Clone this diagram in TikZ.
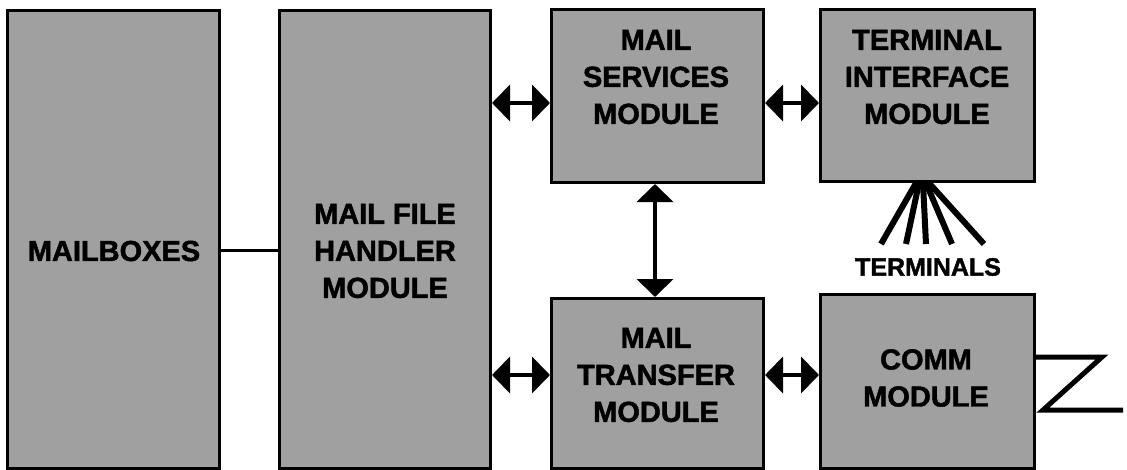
\documentclass[tikz,border=0pt]{standalone}
\usepackage{fontspec}
\setmainfont{Liberation Sans}[BoldFeatures={FakeBold=1.6}]
\usetikzlibrary{arrows.meta}
\definecolor{boxgray}{RGB}{160,160,160}
\begin{document}
\begin{tikzpicture}[x=1pt,y=-1pt,
  modbox/.style={draw=black, line width=3pt, fill=boxgray, rectangle,
    inner sep=0pt, anchor=north west},
  boxtext/.style={font=\fontsize{29}{37}\selectfont\bfseries, align=center,
    inner sep=0pt, anchor=center},
  smalltext/.style={font=\fontsize{25}{30}\selectfont\bfseries, inner sep=0pt},
  dbl/.style={line width=4pt, {Triangle[length=18pt,width=36pt]}-{Triangle[length=18pt,width=36pt]}},
  wire/.style={line width=3pt},
  thickwire/.style={line width=5pt},
  fanline/.style={line width=6pt}]
\useasboundingbox (0,0) rectangle (1127,469);

% module boxes
\node[modbox, minimum width=212pt, minimum height=458pt] (mb)  at (6,9)   {};
\node[modbox, minimum width=211pt, minimum height=458pt] (mfh) at (278,9) {};
\node[modbox, minimum width=212pt, minimum height=173pt] (ms)  at (550,8) {};
\node[modbox, minimum width=214pt, minimum height=172pt] (ti)  at (819,8) {};
\node[modbox, minimum width=212pt, minimum height=170pt] (mt)  at (550,297) {};
\node[modbox, minimum width=214pt, minimum height=174pt] (cm)  at (819,293) {};

% box labels
\node[boxtext] (mbt)  at (114,251) {MAILBOXES};
\node[boxtext] (mfht) at (385,251) {MAIL FILE\\HANDLER\\MODULE};
\node[boxtext] (mst)  at (656,77)  {MAIL\\SERVICES\\MODULE};
\node[boxtext] (tit)  at (927,77)  {TERMINAL\\INTERFACE\\MODULE};
\node[boxtext] (mtt)  at (656,375) {MAIL\\TRANSFER\\MODULE};
\node[boxtext] (cmt)  at (926,378) {COMM\\MODULE};
\node[smalltext] (terms) at (928,267) {TERMINALS};

% connector heights
\coordinate (rowA) at (0,250);
\coordinate (rowB) at (0,103);
\coordinate (rowC) at (0,375);
\coordinate (colV) at (655,0);

% mailboxes to file handler
\draw[wire] (mb.east |- rowA) -- (mfh.west |- rowA);

% two-way data paths
\draw[dbl] (mfh.east |- rowB) -- (ms.west |- rowB);
\draw[dbl] (ms.east |- rowB) -- (ti.west |- rowB);
\draw[dbl] (mfh.east |- rowC) -- (mt.west |- rowC);
\draw[dbl] (mt.east |- rowC) -- (cm.west |- rowC);
\draw[dbl] (colV |- ms.south) -- (colV |- mt.north);

% terminal lines fanning out of the interface module
\coordinate (t1) at (881,244);
\coordinate (t2) at (906,244);
\coordinate (t3) at (926,244);
\coordinate (t4) at (952,244);
\coordinate (t5) at (984,244);
\foreach \i/\x in {1/916,2/919,3/923,4/926,5/929}
  \draw[fanline] (ti.south -| \x,0) -- (t\i);

% communication line leaving the comm module
\coordinate (z1) at (1102,357);
\coordinate (z2) at (1043,410);
\coordinate (z3) at (1123,410);
\coordinate (zrow) at (0,357);
\draw[thickwire] (cm.east |- zrow) -- (z1) -- (z2) -- (z3);
\end{tikzpicture}
\end{document}
